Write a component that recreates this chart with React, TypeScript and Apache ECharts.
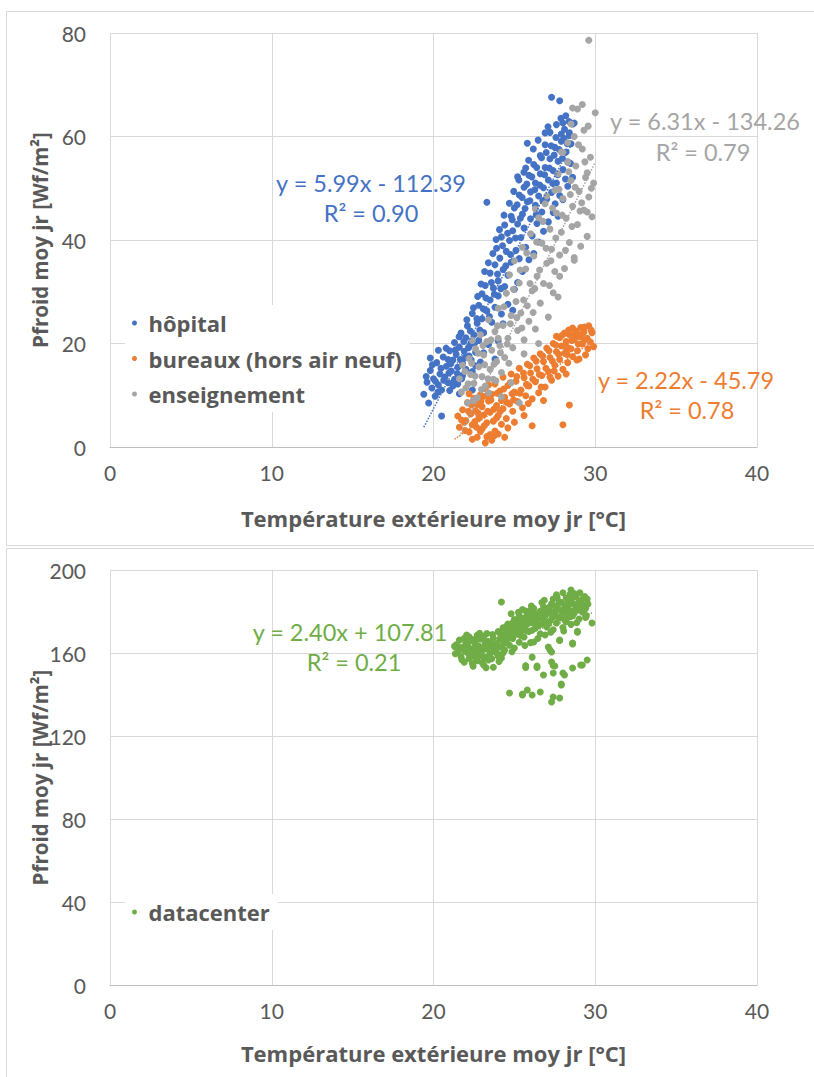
import React, { useEffect, useRef } from "react";
import * as echarts from "echarts";

// ---------- DATA ----------
const xTicks = [0, 10, 20, 30, 40];
const yTicksTop = [0, 20, 40, 60, 80];
const yTicksBottom = [0, 40, 80, 120, 160, 200];

const seriesNames = ["hôpital", "bureaux (hors air neuf)", "enseignement", "datacenter"];
const seriesColors = ["#4472C4", "#ED7D31", "#A5A5A5", "#70AD47"];

const hopital: [number, number][] = [
  [19.4,10.2],[19.7,8.5],[20.5,6.0],[19.6,12.5],[19.8,14.8],[19.9,11.4],[20.0,13.2],[20.1,9.8],[20.2,16.3],[20.3,12.0],
  [20.4,14.1],[20.5,11.0],[20.6,17.4],[20.7,13.5],[20.8,15.6],[20.9,12.4],[21.0,18.6],[21.0,10.9],[21.1,14.7],[21.2,16.8],
  [21.3,20.2],[21.3,13.1],[21.4,17.9],[21.5,12.2],[21.5,15.4],[21.6,19.3],[21.7,22.0],[21.8,16.2],[21.8,13.8],[21.9,18.5],
  [22.0,21.1],[22.0,15.0],[22.1,23.4],[22.2,17.6],[22.3,19.9],[22.4,14.6],[22.4,25.8],[22.5,21.7],[22.6,18.3],[22.7,23.9],
  [22.8,27.4],[22.8,20.6],[22.9,16.4],[23.0,24.8],[23.0,29.6],[23.1,22.1],[23.2,31.2],[23.3,26.3],[23.3,47.3],[23.4,19.8],
  [23.5,28.4],[23.5,33.6],[23.6,24.1],[23.7,30.7],[23.8,35.2],[23.8,27.0],[23.9,38.4],[24.0,32.1],[24.0,29.2],[24.1,36.5],
  [24.2,40.6],[24.2,25.7],[24.3,34.3],[24.4,31.0],[24.4,42.9],[24.5,37.8],[24.6,33.2],[24.7,39.9],[24.8,44.6],[24.8,35.7],
  [24.9,41.8],[25.0,30.5],[25.0,46.2],[25.1,38.0],[25.2,43.1],[25.3,48.7],[25.3,36.4],[25.4,40.5],[25.5,45.0],[25.6,50.2],
  [25.6,42.3],[25.7,38.6],[25.8,47.4],[25.9,52.5],[26.0,44.1],[26.0,49.3],[26.1,40.8],[26.2,54.6],[26.3,46.7],[26.3,51.0],
  [26.4,43.2],[26.5,48.5],[26.6,56.3],[26.6,52.8],[26.7,45.4],[26.8,50.1],[26.9,58.4],[26.9,54.0],[27.0,47.9],[27.1,51.6],
  [27.2,55.7],[27.2,60.8],[27.3,67.6],[27.3,49.2],[27.4,53.4],[27.5,57.9],[27.6,51.0],[27.6,62.3],[27.7,55.2],[27.8,66.9],
  [27.8,48.6],[27.9,59.1],[28.0,53.6],[28.1,61.4],[28.2,57.0],[28.3,55.1],[28.4,60.2],[28.5,58.6],[28.6,62.4],
  [24.0,20.5],[24.3,23.8],[24.6,27.6],[24.9,26.4],[25.2,31.8],[25.5,33.9],[25.9,36.2],[26.2,37.4],[26.5,39.6],[26.8,41.7],
  [27.1,43.5],[27.4,45.3],[27.7,44.6],[28.0,47.8],[28.3,50.4],[28.6,52.1],[25.8,58.7],[25.2,52.2],[25.7,53.9],[26.9,60.7],
  [27.9,60.5],[28.4,60.7],[28.7,62.6],[28.0,62.6],[21.2,11.8],[20.9,16.9],[22.6,15.7],[23.1,18.2],[23.8,17.0],[22.4,11.0],
  [20.3,18.7],[21.6,10.3],[19.8,17.2],
  [19.55,13.6],[19.93,15.9],[20.12,12.7],[20.27,10.6],[20.46,15.2],[20.63,12.9],[20.78,19.1],[20.95,14.3],[21.07,16.1],[21.24,12.6],
  [21.36,18.8],[21.47,14.2],[21.58,21.3],[21.66,16.9],[21.74,13.2],[21.87,20.4],[21.95,17.3],[22.06,24.6],[22.17,19.2],[22.28,22.4],
  [22.33,16.8],[22.47,26.9],[22.55,20.1],[22.68,24.8],[22.73,29.1],[22.86,22.6],[22.94,31.5],[23.07,26.7],[23.16,33.9],[23.24,28.8],
  [23.39,35.6],[23.46,25.2],[23.58,31.8],[23.67,37.4],[23.76,29.5],[23.87,40.1],[23.96,33.4],[24.08,42.0],[24.16,30.6],[24.27,38.9],
  [24.36,44.8],[24.47,35.0],[24.58,41.3],[24.69,47.1],[24.76,37.2],[24.87,43.9],[24.96,49.4],[25.07,40.4],[25.17,46.8],[25.28,51.6],
  [25.37,44.2],[25.48,48.2],[25.59,53.1],[25.66,46.1],[25.77,50.8],[25.88,55.4],[25.96,47.6],[26.08,52.2],[26.17,57.6],[26.26,49.7],
  [26.38,54.0],[26.47,59.3],[26.57,50.6],[26.68,55.9],[26.76,47.6],[26.87,52.6],[26.97,56.9],[27.08,61.9],[27.16,53.9],[27.27,58.2],
  [27.38,50.9],[27.46,56.4],[27.57,59.8],[27.68,52.6],[27.77,57.5],[27.88,63.5],[27.97,55.8],[28.08,59.6],[28.16,51.8],[28.27,58.6],
  [28.38,62.9],[28.47,54.8],[28.18,64.0],[27.52,47.0],[26.35,44.9]
];

const bureaux: [number, number][] = [
  [21.5,6.0],[21.6,3.8],[21.8,7.2],[22.0,5.1],[22.1,8.6],[22.2,2.9],[22.3,6.4],[22.4,4.3],[22.5,9.4],[22.6,7.0],
  [22.7,1.9],[22.8,5.6],[22.9,10.1],[23.0,3.5],[23.0,7.8],[23.1,6.2],[23.2,0.8],[23.2,11.3],[23.3,4.7],[23.4,8.9],
  [23.5,2.4],[23.5,6.7],[23.6,10.2],[23.7,5.0],[23.8,12.2],[23.8,3.1],[23.9,8.0],[24.0,6.1],[24.1,10.8],[24.2,4.4],
  [24.3,13.5],[24.3,7.4],[24.4,9.6],[24.5,5.5],[24.6,11.9],[24.7,8.3],[24.8,14.1],[24.9,6.9],[25.0,10.6],[25.1,12.7],
  [25.2,8.8],[25.3,15.2],[25.4,11.0],[25.5,7.6],[25.6,13.4],[25.7,9.9],[25.8,16.0],[25.9,11.8],[26.0,14.3],[26.1,4.1],
  [26.1,9.3],[26.2,17.2],[26.3,12.6],[26.4,15.1],[26.5,10.5],[26.6,18.0],[26.7,13.8],[26.8,16.5],[26.9,11.6],[27.0,19.1],
  [27.1,14.6],[27.2,17.3],[27.3,12.9],[27.4,20.0],[27.5,15.8],[27.6,18.4],[27.7,13.7],[27.8,21.1],[27.8,16.9],[27.9,19.5],
  [28.0,4.3],[28.0,15.0],[28.1,22.0],[28.1,18.1],[28.2,20.4],[28.3,16.3],[28.4,8.1],[28.4,21.7],[28.5,19.0],[28.6,23.0],
  [28.6,17.5],[28.7,20.8],[28.8,22.4],[28.9,18.6],[29.0,21.3],[29.1,23.1],[29.2,19.9],[29.3,22.2],[29.4,17.8],[29.5,21.0],
  [29.6,23.4],[29.7,20.3],[29.8,22.1],[29.9,19.4],[22.4,1.5],[23.0,9.6],[23.6,1.3],[24.0,2.5],[22.9,3.0],[23.4,12.0],
  [24.6,3.7],[25.0,4.8],[22.2,10.3],[23.3,2.0],[23.9,5.6],[24.4,1.9],[28.9,21.9],[29.3,20.6],[28.3,19.2],[27.6,21.4],
  [29.0,17.0],[28.2,14.1],[27.2,13.5],[26.8,9.0],[25.6,6.1],[21.9,4.8],[22.7,8.2],[24.2,9.0],
  [21.73,5.2],[21.96,3.2],[22.16,6.9],[22.35,8.1],[22.56,4.9],[22.74,6.6],[22.93,8.8],[23.14,4.1],[23.35,6.9],[23.55,9.1],
  [23.73,7.3],[23.94,10.4],[24.13,6.9],[24.34,11.2],[24.55,8.6],[24.74,12.4],[24.95,9.1],[25.15,13.6],[25.34,10.4],[25.56,14.3],
  [25.75,12.1],[25.95,15.7],[26.14,13.1],[26.35,16.6],[26.54,14.0],[26.75,17.6],[26.95,15.2],[27.14,18.6],[27.35,16.6],[27.56,19.7],
  [27.74,17.9],[27.95,21.6],[28.14,19.4],[28.36,22.6],[28.55,20.6],[28.74,21.9],[28.95,19.9],[29.15,21.7],[29.34,23.2],[29.55,19.0],
  [29.74,22.6],[28.86,16.8],[28.26,17.9],[27.46,14.7],[26.66,11.6],[25.86,8.4],[24.86,10.3],[23.76,2.2],[22.66,3.8],[23.26,9.9]
];

const enseignement: [number, number][] = [
  [21.6,13.2],[21.8,15.8],[22.0,11.4],[22.1,8.5],[22.2,17.1],[22.3,14.0],[22.5,12.3],[22.6,19.0],[22.7,9.5],[22.8,15.5],
  [22.9,21.7],[23.0,13.6],[23.1,17.8],[23.2,11.8],[23.3,20.4],[23.4,24.6],[23.5,15.0],[23.6,18.7],[23.7,13.1],[23.8,22.3],
  [23.9,16.5],[24.0,26.8],[24.1,19.6],[24.2,9.7],[24.2,14.4],[24.3,23.5],[24.4,17.3],[24.5,29.7],[24.6,21.0],[24.7,33.3],
  [24.8,25.4],[24.9,19.2],[25.0,36.0],[25.1,28.1],[25.2,22.5],[25.3,8.5],[25.3,31.7],[25.4,25.9],[25.5,38.6],[25.6,20.7],
  [25.7,34.4],[25.8,27.3],[25.9,24.3],[26.0,41.2],[26.1,30.2],[26.2,36.9],[26.3,22.8],[26.4,33.0],[26.5,44.3],[26.6,27.8],
  [26.7,39.4],[26.8,31.6],[26.9,47.0],[27.0,35.5],[27.1,25.1],[27.2,42.1],[27.3,38.2],[27.4,29.8],[27.5,49.6],[27.5,33.9],
  [27.6,45.2],[27.7,52.8],[27.8,37.1],[27.9,41.5],[28.0,56.9],[28.0,48.0],[28.1,34.5],[28.2,44.2],[28.3,58.8],[28.4,39.5],
  [28.5,51.5],[28.5,62.4],[28.6,46.5],[28.7,36.6],[28.8,54.3],[28.9,65.3],[28.9,43.0],[29.0,49.4],[29.1,38.8],[29.2,57.6],
  [29.2,66.2],[29.3,45.8],[29.4,52.1],[29.5,40.7],[29.6,78.6],[29.6,48.3],[29.7,56.0],[29.8,44.5],[29.9,51.0],[30.0,64.6],
  [29.3,61.2],[28.7,60.0],[28.6,65.5],[29.5,45.4],[28.7,36.1],[27.7,29.0],[27.8,33.0],[27.9,57.0],[28.3,55.0],[29.5,53.0],
  [26.3,46.0],[27.0,48.5],[26.5,20.0],[24.8,12.4],[23.4,10.5],[22.4,20.6],[25.6,18.0],[24.0,21.0],
  [21.72,10.6],[21.94,14.6],[22.14,12.2],[22.36,16.2],[22.57,13.7],[22.76,18.1],[22.97,11.1],[23.16,15.9],[23.37,13.2],[23.56,20.7],
  [23.74,16.0],[23.95,23.4],[24.14,18.2],[24.35,27.1],[24.56,19.9],[24.75,23.8],[24.94,30.5],[25.15,25.0],[25.36,34.2],[25.57,28.4],
  [25.76,37.5],[25.97,31.6],[26.16,26.0],[26.37,39.6],[26.56,34.2],[26.77,43.6],[26.96,38.4],[27.17,31.2],[27.36,46.2],[27.56,40.4],
  [27.76,49.8],[27.96,44.8],[28.16,38.0],[28.36,53.2],[28.56,42.6],[28.76,50.2],[28.96,58.4],[29.16,47.2],[29.36,55.1],[29.56,62.0],
  [29.76,50.0],[29.06,45.6],[28.46,48.8],[27.26,36.0],[26.26,30.6],[25.46,23.0],[24.66,16.2],[23.86,12.8],[23.06,19.6],[22.46,9.0]
];

const datacenter: [number, number][] = [
  [21.4,164.0],[21.5,160.5],[21.6,166.2],[21.7,158.3],[21.8,162.7],[21.9,155.6],[22.0,164.9],[22.1,160.1],[22.2,167.8],[22.2,157.4],
  [22.3,162.0],[22.4,155.0],[22.5,165.3],[22.5,159.2],[22.6,161.8],[22.7,168.5],[22.7,156.3],[22.8,163.4],[22.9,158.8],[23.0,166.6],
  [23.0,161.0],[23.1,154.2],[23.2,164.1],[23.2,158.0],[23.3,169.4],[23.3,161.9],[23.4,156.6],[23.5,165.0],[23.5,159.7],[23.6,162.9],
  [23.7,167.2],[23.7,153.1],[23.8,160.6],[23.9,164.6],[24.0,170.3],[24.0,158.4],[24.1,163.0],[24.2,157.6],[24.2,184.6],[24.2,167.5],
  [24.3,172.1],[24.4,161.4],[24.5,165.8],[24.6,169.9],[24.6,174.0],[24.7,140.7],[24.7,163.7],[24.8,171.3],[24.9,167.0],[25.0,176.1],
  [25.0,162.4],[25.1,173.2],[25.2,169.1],[25.3,178.0],[25.3,165.2],[25.4,174.8],[25.5,139.8],[25.5,171.0],[25.6,176.9],[25.6,167.7],
  [25.7,153.0],[25.7,180.2],[25.8,173.9],[25.9,170.4],[26.0,177.6],[26.0,165.0],[26.1,158.0],[26.1,174.6],[26.2,181.4],[26.3,171.9],
  [26.4,153.0],[26.4,176.3],[26.5,179.0],[26.6,169.3],[26.7,174.0],[26.8,149.4],[26.8,182.3],[26.9,168.7],[26.9,177.8],[27.0,172.6],
  [27.1,180.5],[27.2,161.4],[27.2,175.4],[27.3,136.4],[27.3,183.7],[27.4,138.8],[27.4,154.0],[27.4,171.2],[27.5,178.4],[27.6,188.0],
  [27.6,174.5],[27.7,181.1],[27.8,166.0],[27.8,138.3],[27.8,176.9],[27.9,144.6],[27.9,184.5],[28.0,150.4],[28.0,172.3],[28.1,179.7],
  [28.2,186.6],[28.2,175.1],[28.3,182.0],[28.4,177.5],[28.5,190.4],[28.5,173.8],[28.6,152.8],[28.6,164.8],[28.6,183.9],[28.7,179.2],
  [28.8,187.1],[28.9,170.0],[28.9,181.5],[29.0,176.4],[29.1,185.3],[29.2,154.2],[29.2,179.8],[29.3,183.0],[29.4,177.1],[29.5,156.6],
  [29.5,186.0],[29.8,174.5],
  [21.3,163.2],[21.6,161.6],[21.9,167.1],[22.1,163.7],[22.4,166.5],[22.6,157.8],[22.8,160.1],[23.0,155.4],[23.1,168.0],[23.4,163.5],
  [23.6,157.2],[23.9,161.8],[24.1,166.7],[24.3,160.0],[24.4,168.9],[24.5,172.7],[24.7,167.2],[24.9,174.6],[25.1,170.3],[25.2,175.9],
  [25.4,168.3],[25.6,172.4],[25.8,177.8],[25.9,175.2],[26.1,171.0],[26.3,178.6],[26.5,173.3],[26.6,180.1],[26.8,175.7],[27.0,178.9],
  [27.1,174.0],[27.3,179.6],[27.5,182.6],[27.7,177.3],[27.9,180.8],[28.1,176.2],[28.3,184.7],[28.4,180.6],[28.6,178.0],[28.8,182.9],
  [29.0,180.7],[29.2,185.9],[29.4,181.4],[28.7,188.7],[27.4,186.0],[26.7,184.3],[25.5,181.0],[24.8,178.9],[26.0,180.6],[28.0,189.0],
  [25.5,140.2],[25.8,142.2],[26.1,139.8],[26.6,141.2],[27.4,150.4],[28.1,149.4],[27.3,155.7],[27.5,153.7],[26.4,153.7],[25.7,153.9],
  [27.1,162.9],[27.3,160.5],[28.6,164.3],[26.2,165.3],[29.1,154.2],[27.9,145.0],[28.9,170.5],[27.8,166.2],
  [21.35,159.6],[21.55,162.8],[21.75,156.8],[21.95,160.9],[22.15,165.4],[22.35,158.7],[22.55,162.6],[22.75,166.6],[22.95,161.6],[23.15,157.6],
  [23.35,165.6],[23.55,161.4],[23.75,163.9],[23.95,159.4],[24.15,169.0],[24.35,164.6],[24.55,167.7],[24.75,171.6],[24.95,169.6],[25.15,173.9],
  [25.35,171.7],[25.55,176.0],[25.75,170.7],[25.95,178.6],[26.15,176.6],[26.35,173.6],[26.55,177.2],[26.75,179.6],[26.95,175.0],[27.15,182.0],
  [27.35,177.1],[27.55,180.2],[27.75,184.0],[27.95,178.5],[28.15,182.7],[28.35,179.0],[28.55,186.3],[28.75,181.0],[28.95,184.2],[29.15,181.9],
  [29.35,187.2],[29.55,183.6],[22.05,168.6],[22.85,169.5],[23.65,168.9],[24.45,171.0],[25.25,179.6],[26.05,182.6],[26.85,185.4],[27.65,186.6],
  [28.45,188.4],[29.05,189.0],[23.25,152.9],[22.45,153.6],[24.05,155.9],[24.85,160.6],[25.65,163.6],[26.45,167.0],[27.25,170.0],[28.05,170.6],
  [28.85,174.6],[29.45,178.0]
];

const trendSlopes = [5.99, 2.22, 6.31, 2.4];
const trendIntercepts = [-112.39, -45.79, -134.26, 107.81];
const trendXRanges: [number, number][] = [[19.4, 28.6], [21.3, 29.9], [21.6, 30.0], [21.4, 29.8]];
const trendEquations = ["y = 5.99x - 112.39", "y = 2.22x - 45.79", "y = 6.31x - 134.26", "y = 2.40x + 107.81"];
const trendR2 = ["R² = 0.90", "R² = 0.78", "R² = 0.79", "R² = 0.21"];

const xTitle = "Température extérieure moy jr [°C]";
const yTitle = "Pfroid moy jr [Wf/m²]";

const FONT = "Lato, 'Open Sans', sans-serif";
const FONT_BOLD = "'Open Sans', 'Noto Sans', sans-serif";
const TXT = "#595959";

export default function App() {
  const ref = useRef<HTMLDivElement>(null);

  useEffect(() => {
    document.body.style.margin = "0";
    document.body.style.overflow = "hidden";
    if (!ref.current) return;
    const chart = echarts.init(ref.current, undefined, { renderer: "svg" });

    const allData = [hopital, bureaux, enseignement, datacenter];
    const gridOf = [0, 0, 0, 1];

    const scatterSeries = allData.map((d, i) => ({
      type: "scatter",
      name: seriesNames[i],
      xAxisIndex: gridOf[i],
      yAxisIndex: gridOf[i],
      data: d,
      symbolSize: 7,
      itemStyle: { color: seriesColors[i], opacity: 1 },
      z: 2 + i,
      silent: true,
    }));

    const trendSeries = trendSlopes.map((a, i) => {
      const [x0, x1] = trendXRanges[i];
      const b = trendIntercepts[i];
      return {
        type: "line",
        name: "trend " + seriesNames[i],
        xAxisIndex: gridOf[i],
        yAxisIndex: gridOf[i],
        data: [[x0, a * x0 + b], [x1, a * x1 + b]],
        showSymbol: false,
        symbol: "none",
        lineStyle: { color: seriesColors[i], type: "dotted", width: 1.5 },
        z: 10,
        silent: true,
      };
    });

    const axisLabel = { color: TXT, fontSize: 21, fontFamily: FONT };
    const split = { show: true, lineStyle: { color: "#d9d9d9", width: 1 } };
    const xNameStyle = { color: TXT, fontSize: 22, fontWeight: "bold", fontFamily: FONT_BOLD };
    const yNameStyle = { color: TXT, fontSize: 20.5, fontWeight: "bold", fontFamily: FONT_BOLD };

    const xAxisBase = (gi: number, gap: number) => ({
      type: "value",
      gridIndex: gi,
      min: xTicks[0],
      max: xTicks[xTicks.length - 1],
      interval: 10,
      axisLine: { show: true, lineStyle: { color: "#bfbfbf", width: 1 } },
      axisTick: { show: false },
      axisLabel: { ...axisLabel, margin: 15 },
      splitLine: split,
      name: xTitle,
      nameLocation: "middle",
      nameGap: gap,
      nameMoveOverlap: false,
      nameTextStyle: xNameStyle,
    });

    const yAxisBase = (gi: number, ticks: number[]) => ({
      type: "value",
      gridIndex: gi,
      min: ticks[0],
      max: ticks[ticks.length - 1],
      interval: ticks[1] - ticks[0],
      axisLine: { show: false },
      axisTick: { show: false },
      axisLabel: { ...axisLabel, margin: 24 },
      splitLine: split,
      name: yTitle,
      nameLocation: "middle",
      nameGap: 60,
      nameMoveOverlap: false,
      nameTextStyle: yNameStyle,
    });

    const eqPos = [
      [[371, 183], [371, 213]],
      [[686, 380], [687, 410]],
      [[705, 121], [703, 152]],
      [[350, 632], [354, 662]],
    ];
    const eqTexts: any[] = [];
    trendEquations.forEach((t, i) => {
      [t, trendR2[i]].forEach((s, k) => {
        eqTexts.push({
          type: "text",
          x: eqPos[i][k][0],
          y: eqPos[i][k][1],
          z: 20,
          style: {
            text: s,
            fill: seriesColors[i],
            fontSize: 23.5,
            fontFamily: FONT,
            align: "center",
            verticalAlign: "middle",
            textAlign: "center",
            textVerticalAlign: "middle",
          },
        });
      });
    });

    const legendCommon = {
      orient: "vertical",
      left: 125,
      backgroundColor: "#ffffff",
      padding: [7, 8, 7, 7],
      icon: "circle",
      itemWidth: 18,
      itemHeight: 5,
      itemGap: 13.5,
      textStyle: { color: TXT, fontSize: 22, fontWeight: "bold", fontFamily: FONT_BOLD, lineHeight: 22 },
      selectedMode: false,
    };

    chart.setOption({
      animation: false,
      backgroundColor: "#ffffff",
      grid: [
        { left: 110, top: 33, width: 647, height: 414 },
        { left: 110, top: 570, width: 647, height: 415 },
      ],
      xAxis: [xAxisBase(0, 60), xAxisBase(1, 57)],
      yAxis: [yAxisBase(0, yTicksTop), yAxisBase(1, yTicksBottom)],
      legend: [
        { ...legendCommon, top: 305, data: seriesNames.slice(0, 3) },
        { ...legendCommon, top: 894, data: [seriesNames[3]] },
      ],
      series: [...scatterSeries, ...trendSeries],
      graphic: [
        {
          type: "rect",
          shape: { x: 6.5, y: 11.5, width: 900, height: 534 },
          style: { fill: "none", stroke: "#d9d9d9", lineWidth: 1 },
          silent: true,
          z: -1,
        },
        {
          type: "rect",
          shape: { x: 6.5, y: 548.5, width: 900, height: 600 },
          style: { fill: "none", stroke: "#d9d9d9", lineWidth: 1 },
          silent: true,
          z: -1,
        },
        ...eqTexts,
      ],
    });

    return () => chart.dispose();
  }, []);

  return <div ref={ref} style={{ width: 814, height: 1077 }} />;
}
